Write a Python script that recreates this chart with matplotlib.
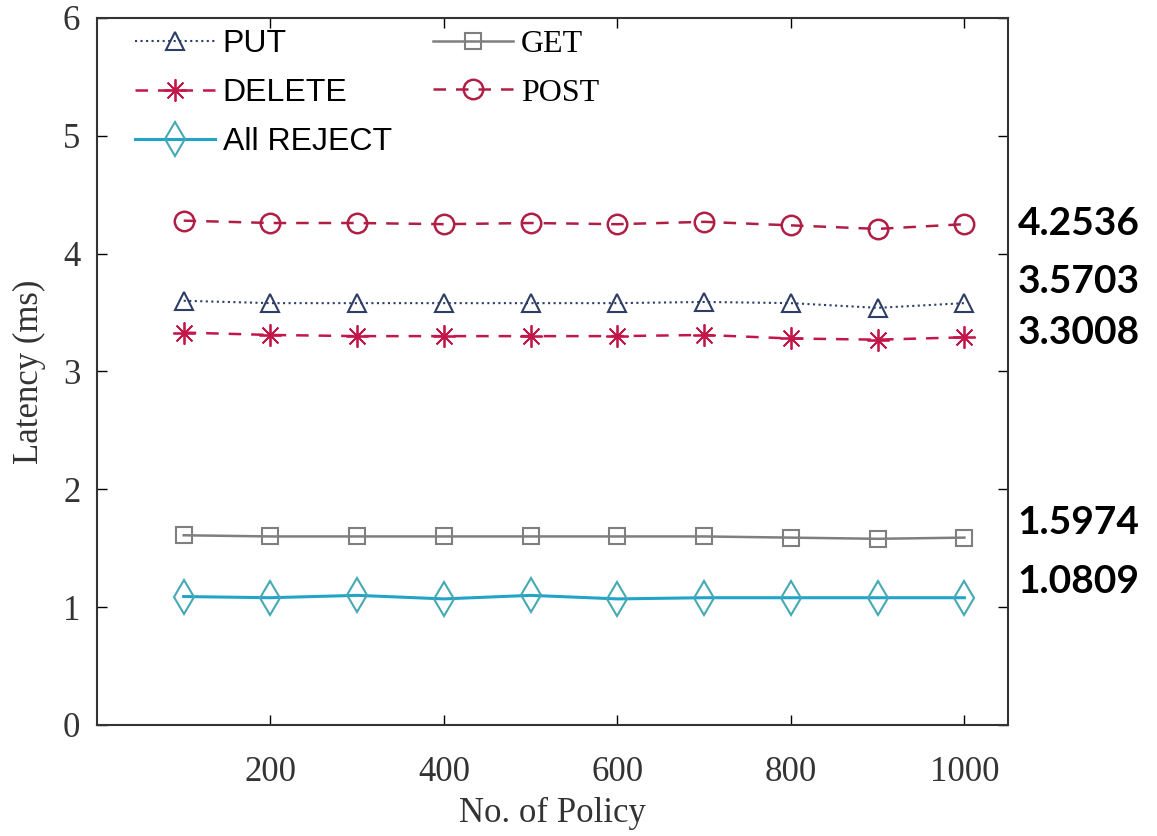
import numpy as np
import matplotlib
matplotlib.use('Agg')
from matplotlib import pyplot as plt

# data
policy = [100, 200, 300, 400, 500, 600, 700, 800, 900, 1000]
put_ms = [3.60, 3.58, 3.58, 3.58, 3.58, 3.58, 3.59, 3.58, 3.54, 3.58]
delete_ms = [3.33, 3.31, 3.30, 3.30, 3.30, 3.30, 3.31, 3.28, 3.27, 3.29]
post_ms = [4.28, 4.26, 4.26, 4.25, 4.26, 4.25, 4.27, 4.24, 4.21, 4.25]
get_ms = [1.61, 1.60, 1.60, 1.60, 1.60, 1.60, 1.60, 1.59, 1.58, 1.59]
reject_ms = [1.09, 1.08, 1.10, 1.07, 1.10, 1.07, 1.08, 1.08, 1.08, 1.08]
avg_labels = ['4.2536', '3.5703', '3.3008', '1.5974', '1.0809']
avg_y = [4.26, 3.76, 3.33, 1.715, 1.214]   # where the side labels sit

serif = 'Liberation Serif'
sans = 'Liberation Sans'

fig = plt.figure(figsize=(11.57, 8.36), dpi=100)
ax = fig.add_axes([0.0838, 0.1328, 0.7872, 0.8457])

l_put, = ax.plot(policy, put_ms, ls=':', lw=1.5, color='#2e3d66', marker='^',
                 ms=13, mfc='none', mew=1.5, label='PUT')
l_del, = ax.plot(policy, delete_ms, ls=(0, (5, 4)), lw=1.8, color='#c3174a',
                 marker=(8, 2, 0), ms=16, mew=1.3, label='DELETE')
l_rej, = ax.plot(policy, reject_ms, ls='-', lw=2.2, color='#22a4c8', marker='d',
                 ms=17, mfc='none', mec='#45a9b3', mew=1.5, label='All REJECT')
l_get, = ax.plot(policy, get_ms, ls='-', lw=1.8, color='#7f7f7f', marker='s',
                 ms=11, mfc='none', mew=1.5, label='GET')
l_post, = ax.plot(policy, post_ms, ls=(0, (5, 4)), lw=1.8, color='#b01e45',
                  marker='o', ms=14, mfc='none', mew=1.8, label='POST')

ax.set_xlim(0, 1050)
ax.set_ylim(0, 6)
ax.set_xticks([200, 400, 600, 800, 1000])
ax.set_yticks([0, 1, 2, 3, 4, 5, 6])
ax.tick_params(direction='in', top=True, right=True, length=7, width=1,
               labelsize=25)
ax.tick_params(axis='x', pad=22)
ax.tick_params(axis='y', pad=12)
for lab in ax.get_xticklabels() + ax.get_yticklabels():
    lab.set_fontfamily(serif)
    lab.set_color('#333333')
for s in ax.spines.values():
    s.set_linewidth(1.5)
    s.set_color('#333333')

ax.set_xlabel('No. of Policy', fontsize=25, fontfamily=serif, color='#333333', labelpad=6)
ax.set_ylabel('Latency (ms)', fontsize=25, fontfamily=serif, color='#333333', labelpad=12)

leg = ax.legend(handles=[l_put, l_del, l_rej, l_get, l_post], ncol=2,
                loc='upper left', bbox_to_anchor=(0.01, 1.025), frameon=False,
                fontsize=23, handlelength=2.5, handletextpad=0.25,
                columnspacing=1.3, labelspacing=0.6)
for txt in leg.get_texts():
    if txt.get_text() in ('GET', 'POST'):
        txt.set_fontfamily(serif)
    else:
        txt.set_fontfamily(sans)

for lab, yv in zip(avg_labels, avg_y):
    ax.text(1.011, yv / 6, lab, transform=ax.transAxes, fontsize=28,
            fontweight='bold', fontfamily='Lato', va='center', ha='left',
            clip_on=False)

fig.savefig('out.png', dpi=100)
